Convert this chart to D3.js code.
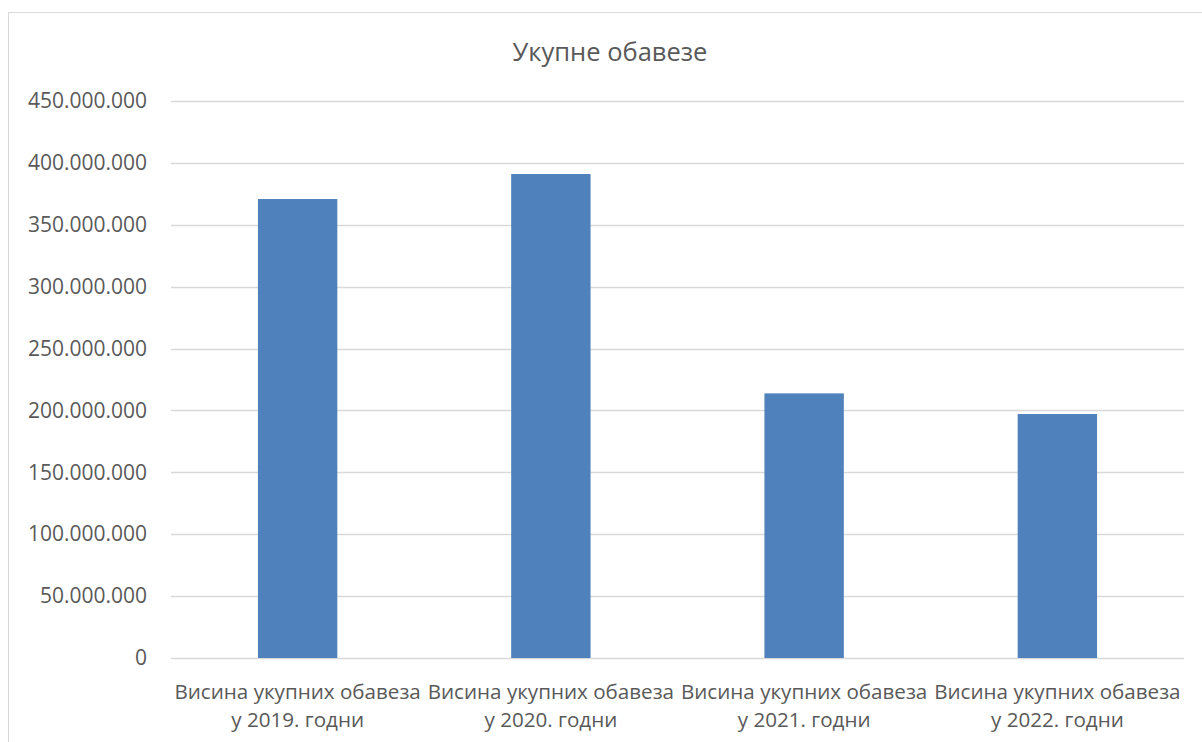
<!DOCTYPE html>
<html><head><meta charset="utf-8">
<script src="https://cdn.jsdelivr.net/npm/d3@7"></script>
<style>
html,body{margin:0;padding:0;background:#fff;overflow:hidden}
text{font-family:"Open Sans",sans-serif;fill:#595959}
</style></head>
<body>
<svg id="chart" width="1202" height="742"></svg>
<script>
const title = "Укупне обавезе";
const categories = [
  ["Висина укупних обавеза", "у 2019. годни"],
  ["Висина укупних обавеза", "у 2020. годни"],
  ["Висина укупних обавеза", "у 2021. годни"],
  ["Висина укупних обавеза", "у 2022. годни"]
];
const values = [370800000, 391000000, 213800000, 197100000];
const yTicks = [0, 50000000, 100000000, 150000000, 200000000, 250000000, 300000000, 350000000, 400000000, 450000000];

const svg = d3.select("#chart");
// chart frame
svg.append("rect").attr("x", 8.5).attr("y", 12.5).attr("width", 1220).attr("height", 760)
  .attr("fill", "#fff").attr("stroke", "#D9D9D9").attr("stroke-width", 1);

const plot = {left: 171, right: 1184, top: 101, bottom: 658};
const x = d3.scaleBand().domain(d3.range(categories.length)).range([plot.left, plot.right])
  .paddingInner(0.6865).paddingOuter(0.6865/2);
const y = d3.scaleLinear().domain([0, 450000000]).range([plot.bottom, plot.top]);

const fmt = v => v === 0 ? "0" : d3.format(",")(v).replace(/,/g, ".");

// gridlines
svg.append("g").selectAll("line").data(yTicks).join("line")
  .attr("x1", plot.left).attr("x2", plot.right)
  .attr("y1", d => Math.round(y(d)) + 0.5).attr("y2", d => Math.round(y(d)) + 0.5)
  .attr("stroke", "#D9D9D9").attr("stroke-width", 1.5);

// y axis labels
const yAxis = d3.axisLeft(y).tickValues(yTicks).tickFormat(fmt).tickSize(0).tickPadding(0);
const gy = svg.append("g").attr("transform", `translate(147,0)`).call(yAxis);
gy.select(".domain").remove();
gy.selectAll("text").attr("font-size", 21).style("font-family", '"Open Sans",sans-serif').attr("fill", "#595959");

// bars
svg.append("g").selectAll("rect").data(values).join("rect")
  .attr("x", (d, i) => x(i)).attr("width", x.bandwidth())
  .attr("y", d => y(d)).attr("height", d => y(0) - y(d))
  .attr("fill", "#4F81BD");

// x axis labels
const xAxis = d3.axisBottom(x).tickSize(0).tickFormat(() => "");
const gx = svg.append("g").attr("transform", `translate(0,${plot.bottom})`).call(xAxis);
gx.select(".domain").remove();
gx.selectAll(".tick").each(function(d) {
  const t = d3.select(this).append("text").attr("text-anchor", "middle").attr("font-size", 20.6).attr("fill", "#595959");
  categories[d].forEach((line, k) => {
    t.append("tspan").attr("x", 0).attr("y", 41 + k * 28).text(line);
  });
});

// title
svg.append("text").attr("x", 610).attr("y", 61).attr("text-anchor", "middle")
  .attr("font-size", 25.5).text(title);
</script>
</body></html>
